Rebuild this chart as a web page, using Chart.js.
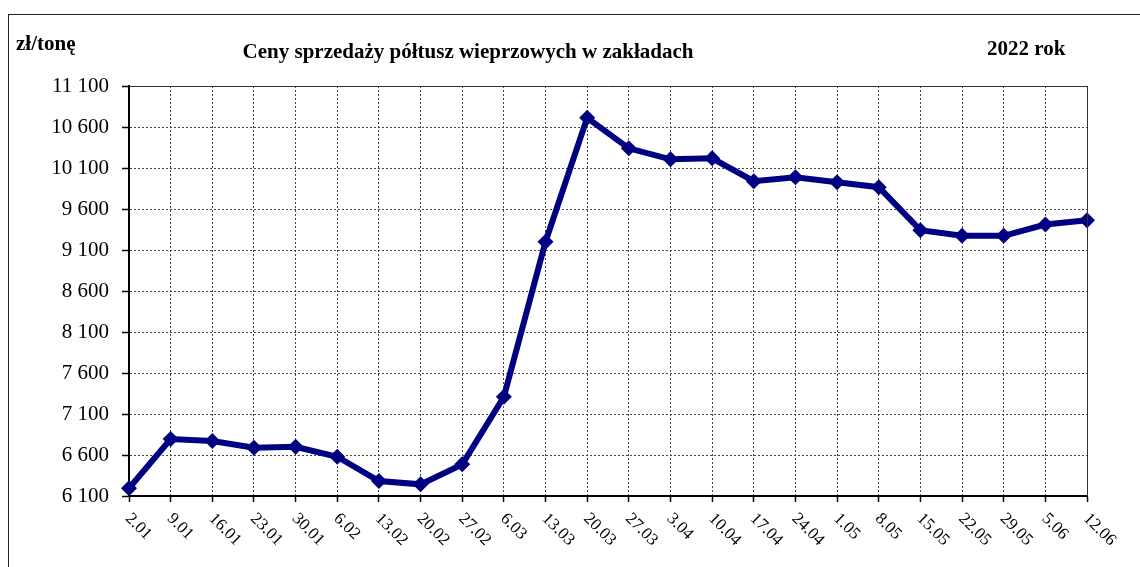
<!DOCTYPE html>
<html>
<head>
<meta charset="utf-8">
<script src="https://cdn.jsdelivr.net/npm/chart.js@4"></script>
<style>
  html, body { margin: 0; padding: 0; background: #fff; overflow: hidden; }
  #wrap { position: relative; width: 1140px; height: 567px; }
  #frame { position: absolute; left: 8px; top: 14px; width: 1300px; height: 700px; border-left: 1px solid #222; border-top: 1px solid #222; }
  canvas { position: absolute; left: 0; top: 0; }
  .t { position: absolute; font-family: 'Liberation Serif', 'Times New Roman', serif; font-weight: bold; color: #000; white-space: nowrap; font-size: 21px; line-height: 24px; }
</style>
</head>
<body>
<div id="wrap">
  <div id="frame"></div>
  <canvas id="c" width="1140" height="567"></canvas>
  <div class="t" id="unit" style="left:16px; top:31px;">zł/tonę</div>
  <div class="t" id="title" style="left:468px; top:39px; transform:translateX(-50%);">Ceny sprzedaży półtusz wieprzowych w zakładach</div>
  <div class="t" id="year" style="left:987px; top:36px;">2022 rok</div>
</div>
<script>
const categories = ['2.01','9.01','16.01','23.01','30.01','6.02','13.02','20.02','27.02','6.03','13.03','20.03','27.03','3.04','10.04','17.04','24.04','1.05','8.05','15.05','22.05','29.05','5.06','12.06'];
const prices = [6195, 6795, 6771, 6689, 6701, 6579, 6283, 6242, 6486, 7311, 9201, 10713, 10340, 10206, 10218, 9939, 9987, 9927, 9866, 9342, 9273, 9273, 9410, 9463];
const yMin = 6100;
const yMax = 11100;
const yStep = 500;

function fmt(v) {
  return String(v).replace(/\B(?=(\d{3})+(?!\d))/g, ' ');
}

const xLabelPlugin = {
  id: 'xLabels',
  afterDraw(chart) {
    const ctx = chart.ctx;
    const xs = chart.scales.x;
    const area = chart.chartArea;
    ctx.save();
    ctx.strokeStyle = '#333';
    ctx.lineWidth = 1;
    ctx.beginPath();
    ctx.moveTo(area.left, area.top + 0.5);
    ctx.lineTo(area.right + 0.5, area.top + 0.5);
    ctx.lineTo(area.right + 0.5, area.bottom);
    ctx.stroke();
    ctx.restore();
    ctx.save();
    ctx.font = '17px "Liberation Serif", "Times New Roman", serif';
    ctx.fillStyle = '#000';
    ctx.textAlign = 'left';
    ctx.textBaseline = 'middle';
    categories.forEach((lab, i) => {
      const x = xs.getPixelForValue(i);
      ctx.save();
      ctx.translate(x - 1, area.bottom + 20);
      ctx.rotate(Math.PI / 4);
      ctx.fillText(lab, 0, 0);
      ctx.restore();
    });
    ctx.restore();
  }
};

new Chart(document.getElementById('c'), {
  type: 'line',
  data: {
    labels: categories,
    datasets: [{
      data: prices,
      borderColor: '#000080',
      backgroundColor: '#000080',
      borderWidth: 6,
      pointStyle: 'rectRot',
      pointRadius: 8,
      pointHoverRadius: 8,
      pointBackgroundColor: '#000080',
      pointBorderColor: '#000080',
      pointBorderWidth: 0,
      tension: 0,
      fill: false
    }]
  },
  options: {
    responsive: false,
    animation: false,
    devicePixelRatio: 1,
    layout: { padding: { top: 86, right: 53, bottom: 0, left: 0 } },
    plugins: { legend: { display: false }, tooltip: { enabled: false }, title: { display: false } },
    scales: {
      x: {
        type: 'category',
        offset: false,
        afterFit(s) { s.height = 71; },
        ticks: { display: false },
        grid: {
          color: '#444',
          lineWidth: 1,
          drawTicks: true,
          tickLength: 6,
          tickColor: '#000',
          tickWidth: 1.5,
          tickBorderDash: []
        },
        border: { display: true, color: '#000', width: 2, dash: [2, 2] }
      },
      y: {
        min: yMin,
        max: yMax,
        afterFit(s) { s.width = 129; },
        ticks: {
          stepSize: yStep,
          padding: 13,
          color: '#000',
          font: { family: "'Liberation Serif', 'Times New Roman', serif", size: 21 },
          callback: (v) => fmt(v)
        },
        grid: {
          color: '#444',
          lineWidth: 1,
          drawTicks: true,
          tickLength: 7,
          tickColor: '#000',
          tickWidth: 1.5,
          tickBorderDash: []
        },
        border: { display: true, color: '#000', width: 2, dash: [2, 2] }
      }
    }
  },
  plugins: [xLabelPlugin]
});
</script>
</body>
</html>
